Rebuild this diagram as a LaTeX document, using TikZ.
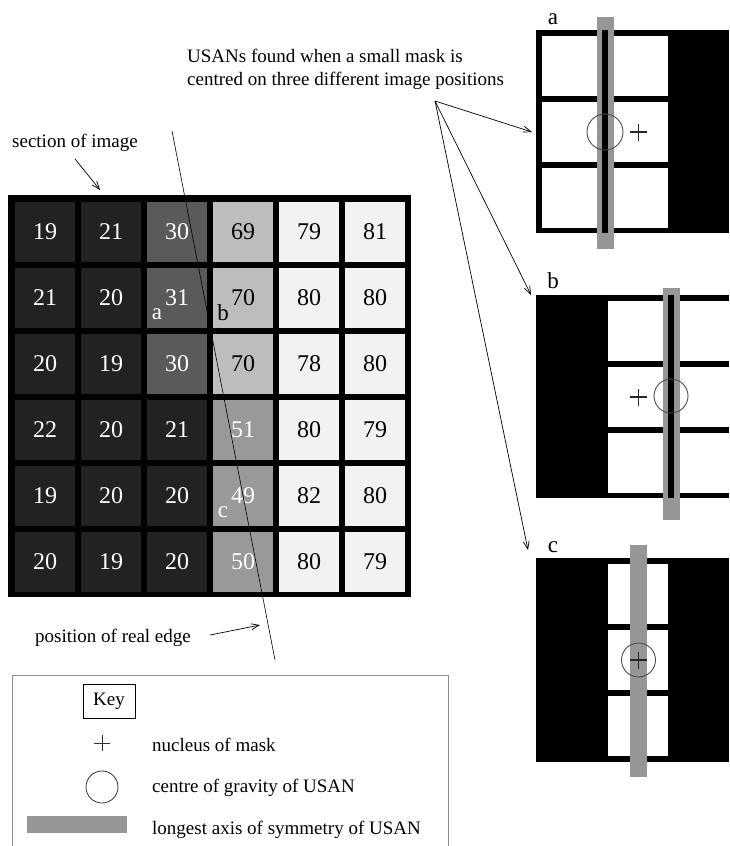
\documentclass[tikz,border=0pt]{standalone}
\usepackage{fontspec}
\setmainfont{Liberation Serif}
\usetikzlibrary{arrows.meta, positioning}
\definecolor{celldark}{RGB}{34,34,34}
\definecolor{cellmid}{RGB}{90,90,90}
\definecolor{cellsoft}{RGB}{189,189,189}
\definecolor{cellgrey}{RGB}{153,153,153}
\definecolor{celllight}{RGB}{242,242,242}
\definecolor{axisgrey}{RGB}{150,150,150}

\begin{document}
\begin{tikzpicture}[x=1pt, y=-1pt, font=\fontsize{19}{23}\selectfont,
  cell/.style={minimum size=60pt, inner sep=0pt, font=\fontsize{24}{26}\selectfont},
  kdark/.style={fill=celldark, text=white},
  kmid/.style={fill=cellmid, text=white},
  ksoft/.style={fill=cellsoft, text=black},
  kgrey/.style={fill=cellgrey, text=white},
  klight/.style={fill=celllight, text=black},
  lbl/.style={anchor=west, inner sep=0pt},
  spot/.style={inner sep=0pt, font=\fontsize{23}{25}\selectfont},
  nucleus/.style={line width=1.1pt, black!85},
  cog/.style={line width=0.9pt, black!70},
  a/.style={-{Straight Barb[length=8pt, width=6pt]}, line width=0.7pt}]
\useasboundingbox (0,0) rectangle (729,846);
\clip (0,0) rectangle (729,846);

% image section
\fill[black] (8,195) rectangle (411,597);
\foreach \row [count=\r] in {
  {19/kdark,21/kdark,30/kmid,69/ksoft,79/klight,81/klight},
  {21/kdark,20/kdark,31/kmid,70/ksoft,80/klight,80/klight},
  {20/kdark,19/kdark,30/kmid,70/ksoft,78/klight,80/klight},
  {22/kdark,20/kdark,21/kdark,51/kgrey,80/klight,79/klight},
  {19/kdark,20/kdark,20/kdark,49/kgrey,82/klight,80/klight},
  {20/kdark,19/kdark,20/kdark,50/kgrey,80/klight,79/klight}}
  \foreach \v/\k [count=\c] in \row
    \node[cell, \k] (g\r\c) at ({45+66*(\c-1)}, {232+66*(\r-1)}) {\v};
\node[spot, text=white] (pa) at (157,314) {a};
\node[spot, text=black] (pb) at (223,313) {b};
\node[spot, text=white] (pc) at (223,512) {c};

% real edge
\coordinate (edgetop) at (172,131);
\coordinate (edgebot) at (275,660);
\draw[line width=0.6pt] (edgetop) -- (edgebot);

\node[lbl] (section) at (12,143) {section of image};
\coordinate (sectip) at (100,190);
\draw[a] ([xshift=0pt, yshift=-7pt]section.south) -- (sectip);

\node[lbl] (realedge) at (35,638) {position of real edge};
\coordinate (edgetip) at (260,625);
\draw[a] ([xshift=19pt, yshift=3pt]realedge.east) -- (edgetip);

\node[lbl, anchor=north west, align=left] (usan) at (187,49)
  {USANs found when a small mask is\\centred on three different image positions};
\coordinate (usanfoot) at (435,101);
\coordinate (tipa) at (532,132);
\coordinate (tipb) at (531,295);
\coordinate (tipc) at (528,550);
\draw[a] (usanfoot) -- (tipa);
\draw[a] (usanfoot) -- (tipb);
\draw[a] (usanfoot) -- (tipc);

% mask a
\node[spot] (labela) at (553,19) {a};
\fill[black] (536,30) rectangle (729,233);
\foreach \y in {36,102,168}
  \foreach \x in {542,608}
    \fill[white] (\x,\y) rectangle ++(60,60);
\fill[axisgrey] (597,17) rectangle (614,249);
\fill[black] (602,30) rectangle (608,233);
\draw[cog] (605,132) circle (18);
\draw[nucleus] (630,132) -- (647,132) (638.5,124) -- (638.5,141);

% mask b
\node[spot] (labelb) at (553,281) {b};
\fill[black] (536,295) rectangle (729,498);
\foreach \y in {301,367,433}
  \foreach \x in {608,674}
    \fill[white] (\x,\y) rectangle ++(60,60);
\fill[axisgrey] (663,288) rectangle (680,520);
\fill[black] (668,295) rectangle (674,498);
\draw[cog] (671,396) circle (17);
\draw[nucleus] (630,397) -- (647,397) (638.5,389) -- (638.5,406);

% mask c
\node[spot] (labelc) at (553,547) {c};
\fill[black] (536,558) rectangle (729,762);
\foreach \y in {564,630,696}
  \fill[white] (608,\y) rectangle ++(60,60);
\fill[axisgrey] (630,545) rectangle (647,777);
\draw[cog] (638.5,660) circle (17);
\draw[nucleus] (630,660) -- (647,660) (638.5,651.5) -- (638.5,668.5);

% key
\draw[black!45, line width=0.8pt] (12,675) rectangle (448,860);
\node[draw, line width=0.8pt, minimum width=52pt, minimum height=34pt, inner sep=0pt] (key) at (109,701) {Key};
\draw[line width=0.8pt, black!80] (94,743) -- (110,743) (102,735) -- (102,751);
\draw[line width=0.8pt, black!80] (102,787) circle (16);
\fill[axisgrey] (27,816) rectangle (127,833);
\node[lbl] (knucleus) at (152,745) {nucleus of mask};
\node[lbl] (kcog) at (152,788) {centre of gravity of USAN};
\node[lbl] (kaxis) at (152,830) {longest axis of symmetry of USAN};
\end{tikzpicture}
\end{document}
